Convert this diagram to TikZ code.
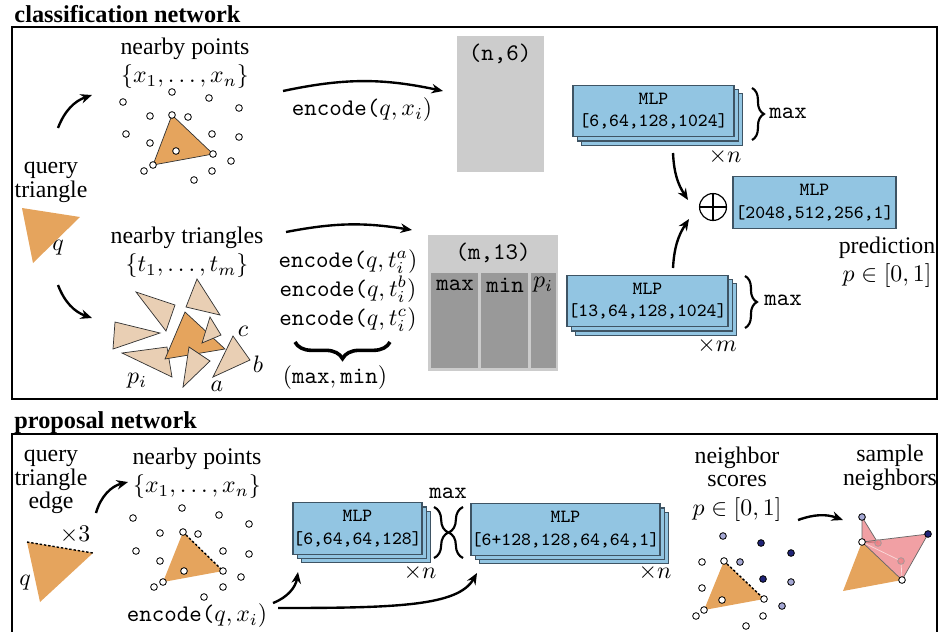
\documentclass[tikz,border=0pt]{standalone}
\usepackage{fontspec}
\setmainfont{Liberation Serif}
\usepackage{amsmath}
\usepackage{amssymb}
\usetikzlibrary{arrows.meta,shadows,decorations.pathreplacing}
\definecolor{qorange}{RGB}{229,164,93}
\definecolor{tritan}{RGB}{233,207,180}
\definecolor{boxgray}{RGB}{204,204,204}
\definecolor{colgray}{RGB}{153,153,153}
\definecolor{mlpblue}{RGB}{146,197,226}
\definecolor{mlpedge}{RGB}{62,84,100}
\definecolor{ptdark}{RGB}{32,36,120}
\definecolor{ptlight}{RGB}{165,168,212}
\definecolor{nbpink}{RGB}{236,128,133}
\tikzset{
  netframe/.style={line width=1.2pt},
  nettitle/.style={font=\fontsize{10.2}{12}\selectfont\bfseries, inner sep=0pt},
  lbl/.style={align=center, font=\fontsize{10}{10}\selectfont, inner sep=0pt},
  ttlbl/.style={font=\fontsize{10}{12}\selectfont\ttfamily, inner sep=0pt},
  arr/.style={-{Stealth[length=4.8pt,width=4pt]}, line width=1pt},
  pt/.style={circle, draw, fill=white, inner sep=0pt, minimum size=2.8pt, line width=0.35pt},
  ptd/.style={pt, fill=ptdark},
  ptl/.style={pt, fill=ptlight},
  tri/.style={draw=black!80, line width=0.3pt},
  qedge/.style={dash pattern=on 1pt off 0.8pt, line width=0.6pt},
  graybox/.style={fill=boxgray, inner sep=0pt},
  mlp/.style={draw=mlpedge, fill=mlpblue, line width=0.5pt, align=center, inner sep=0pt,
    font=\fontsize{7.8}{9.5}\selectfont\ttfamily, minimum height=21.6pt},
  mlpstack/.style={mlp, double copy shadow={shadow xshift=1.8pt, shadow yshift=-1.8pt}},
  brc/.style={decorate, decoration={brace, amplitude=5pt}, line width=0.9pt},
}
\begin{document}
\begin{tikzpicture}[x=0.42pt,y=-0.42pt]
\useasboundingbox (0,0) rectangle (939,631);

% classification network
\node[nettitle, anchor=base west] (cltitle) at (14,22) {classification network};
\draw[netframe] (12,27) rectangle (937,399);

\node[lbl] (qtxt) at (51,182) {query\\triangle};
\fill[qorange] (22,208) -- (80,217) -- (33,263) -- cycle;
\node[inner sep=0pt] (qlab) at (58,248) {$q$};

\node[lbl] (nbpts) at (185,63) {nearby points\\[2pt]$\{x_1,\ldots,x_n\}$};
\node[lbl] (nbtri) at (187,252) {nearby triangles\\[2pt]$\{t_1,\ldots,t_m\}$};

\coordinate (qup) at (58,128);
\coordinate (ptin) at (92,95);
\coordinate (qdown) at (58,285);
\coordinate (triin) at (92,318);
\draw[arr] (qup) to[bend left=25] (ptin);
\draw[arr] (qdown) to[bend right=25] (triin);

\filldraw[tri, fill=qorange] (172,115) -- (213,154) -- (153,165) -- cycle;
\foreach \p [count=\i] in {(172,92),(123,102),(209,98),(239,108),(150,116),(172,115),
  (188,117),(126,134),(212,134),(239,137),(150,143),(176,151),(213,154),(231,161),
  (153,165),(144,171),(212,171),(194,180)}
  \node[pt] (xa\i) at \p {};

\filldraw[tri, fill=tritan] (136,292) -- (175,305) -- (166,331) -- cycle;
\filldraw[tri, fill=tritan] (197,279) -- (220,315) -- (186,307) -- cycle;
\filldraw[tri, fill=tritan] (115,322) -- (160,333) -- (113,349) -- cycle;
\filldraw[tri, fill=tritan] (122,353) -- (167,347) -- (172,377) -- cycle;
\filldraw[tri, fill=qorange] (185,312) -- (225,349) -- (165,359) -- cycle;
\filldraw[tri, fill=tritan] (210,317) -- (221,335) -- (202,343) -- cycle;
\filldraw[tri, fill=tritan] (189,347) -- (210,361) -- (183,387) -- cycle;
\filldraw[tri, fill=tritan] (213,377) -- (250,360) -- (233,336) -- cycle;
\node[inner sep=0pt] (ta) at (217,386) {$a$};
\node[inner sep=0pt] (tb) at (258,364) {$b$};
\node[inner sep=0pt] (tc) at (243,331) {$c$};
\node[inner sep=0pt] (tp) at (137,381) {$p_i$};

\coordinate (encfrom) at (283,91);
\coordinate (encto) at (443,91);
\draw[arr] (encfrom) to[bend left=12] (encto);
\node[ttlbl] (enc1) at (362,110) {encode($q,x_i)$};

\coordinate (enctfrom) at (286,232);
\coordinate (enctto) at (412,230);
\draw[arr] (enctfrom) to[bend left=10] (enctto);
\node[ttlbl, anchor=base] (encta) at (348,267) {encode($q,t_i^a)$};
\node[ttlbl, anchor=base] (enctb) at (348,296) {encode($q,t_i^b)$};
\node[ttlbl, anchor=base] (enctc) at (348,325) {encode($q,t_i^c)$};
\draw[decorate, decoration={brace, amplitude=7pt}, line width=1.5pt] (390,342) -- (295,342);
\node[inner sep=0pt] (maxmin) at (335,378) {$(\texttt{max},\texttt{min})$};

\node[graybox, minimum width=36.5pt, minimum height=57.1pt] (nbox) at (500.5,104) {};
\node[ttlbl] (nboxlab) at (500,54) {(n,6)};

\node[graybox, minimum width=54.6pt, minimum height=57.1pt] (mbox) at (493,303) {};
\node[ttlbl] (mboxlab) at (493,253) {(m,13)};
\fill[colgray] (431,273) rectangle (478,368);
\fill[colgray] (481,273) rectangle (528,368);
\fill[colgray] (531,273) rectangle (556,368);
\node[ttlbl] (colmax) at (455,285) {max};
\node[ttlbl] (colmin) at (505,285) {min};
\node[inner sep=0pt] (colp) at (543,285) {$p_i$};

\node[mlpstack, minimum width=67.6pt] (mlpx) at (653.5,111) {MLP\\{}[6,64,128,1024]};
\draw[brc] (752,88) -- (752,140);
\node[ttlbl] (maxx) at (788,113) {max};
\node[inner sep=0pt] (xn1) at (725,157) {$\times n$};

\node[mlpstack, minimum width=67.6pt] (mlpt) at (647.5,301) {MLP\\{}[13,64,128,1024]};
\draw[brc] (745,276) -- (745,328);
\node[ttlbl] (maxt) at (783,300) {max};
\node[inner sep=0pt] (xm) at (717,346) {$\times m$};

\node[circle, draw, line width=0.5pt, minimum size=11.3pt, inner sep=0pt] (oplus) at (713,207) {};
\draw[line width=0.5pt] (oplus.north) -- (oplus.south) (oplus.west) -- (oplus.east);
\coordinate (mlpxout) at (673,153);
\coordinate (plusin1) at (688,200);
\coordinate (mlptout) at (673,268);
\coordinate (plusin2) at (689,219);
\draw[arr] (mlpxout) to[bend right=15] (plusin1);
\draw[arr] (mlptout) to[bend left=15] (plusin2);

\node[mlp, minimum width=68.5pt] (mlpfin) at (814.5,202.5) {MLP\\{}[2048,512,256,1]};
\node[lbl] (pred) at (887,262) {prediction\\[2pt]$p\in[0,1]$};

% proposal network
\node[nettitle, anchor=base west] (prtitle) at (14,428) {proposal network};
\draw[netframe] (12,645) -- (12,434) -- (937,434) -- (937,645);

\node[lbl] (qetxt) at (51,482) {query\\triangle\\edge};
\fill[qorange] (27,542) -- (93,553) -- (40,602) -- cycle;
\draw[qedge] (27,542) -- (93,553);
\node[inner sep=0pt] (x3) at (75,535) {$\times 3$};
\node[inner sep=0pt] (qlab2) at (25,583) {$q$};

\node[lbl] (nbpts2) at (197,473) {nearby points\\[2pt]$\{x_1,\ldots,x_n\}$};
\coordinate (qeup) at (96,513);
\coordinate (pt2in) at (128,482);
\draw[arr] (qeup) to[bend left=30] (pt2in);

\fill[qorange] (183,532) -- (223,571) -- (163,582) -- cycle;
\draw[qedge] (183,532) -- (223,571);
\foreach \p [count=\i] in {(182,508),(133,518),(219,515),(249,524),(160,533),(183,532),
  (198,534),(136,551),(223,551),(249,554),(160,561),(184,571),(223,571),(241,577),
  (163,582),(154,587),(223,587),(204,597)}
  \node[pt] (xb\i) at \p {};

\node[ttlbl] (enc2) at (197,616) {encode($q,x_i)$};
\coordinate (enc2a) at (273,603);
\coordinate (mlpain) at (298,572);
\coordinate (enc2b) at (278,608);
\coordinate (mlpbin) at (477,573);
\draw[arr] (enc2a) to[bend right=30] (mlpain);
\draw[arr] (enc2b) to[out=0, in=240, out distance=50pt, in distance=16pt] (mlpbin);

\node[mlpstack, minimum width=54.2pt] (mlpa) at (357.5,528.5) {MLP\\{}[6,64,64,128]};
\node[inner sep=0pt] (xn2) at (420,573) {$\times n$};
\draw[brc, decoration={amplitude=6pt}] (434,507) -- (434,558);
\draw[brc, decoration={amplitude=6pt}] (463,558) -- (463,507);
\node[ttlbl] (maxb) at (448,493) {max};
\node[mlpstack, minimum width=79.4pt] (mlpb) at (565.5,529.5) {MLP\\{}[6+128,128,64,64,1]};
\node[inner sep=0pt] (xn3) at (655,573) {$\times n$};

\node[lbl] (scores) at (737,484) {neighbor\\scores\\[2pt]$p\in[0,1]$};
\fill[qorange] (724,561) -- (764,599) -- (704,610) -- cycle;
\draw[qedge] (724,561) -- (764,599);
\foreach \p [count=\i] in {(702,562),(724,561),(702,588),(722,600),(764,599),(704,610),
  (696,616),(763,616),(746,626)}
  \node[pt] (sw\i) at \p {};
\foreach \p [count=\i] in {(723,536),(740,562),(791,582),(782,606)}
  \node[ptl] (sl\i) at \p {};
\foreach \p [count=\i] in {(761,543),(791,553),(763,579)}
  \node[ptd] (sd\i) at \p {};

\coordinate (scout) at (798,520);
\coordinate (smpin) at (843,520);
\draw[arr] (scout) to[bend left=20] (smpin);
\node[lbl] (sample) at (890,468) {sample\\neighbors};

\fill[qorange] (862,542) -- (902,580) -- (843,591) -- cycle;
\filldraw[draw=black!60, line width=0.3pt, fill=nbpink, fill opacity=0.75]
  (862,517) -- (878,543) -- (862,542) -- cycle;
\filldraw[draw=black!60, line width=0.3pt, fill=nbpink, fill opacity=0.75]
  (862,542) -- (928,534) -- (902,580) -- cycle;
\draw[white!70!nbpink, line width=0.3pt] (862,542) -- (901,561) -- (902,580);
\node[pt, fill=nbpink, draw=black!40, opacity=0.8] (sp1) at (878,543) {};
\node[pt, fill=nbpink, draw=black!40, opacity=0.8] (sp2) at (901,561) {};
\node[ptl] (sp3) at (862,517) {};
\node[ptd] (sp4) at (928,534) {};
\node[pt] (sp5) at (862,542) {};
\node[pt] (sp6) at (902,580) {};
\end{tikzpicture}
\end{document}
